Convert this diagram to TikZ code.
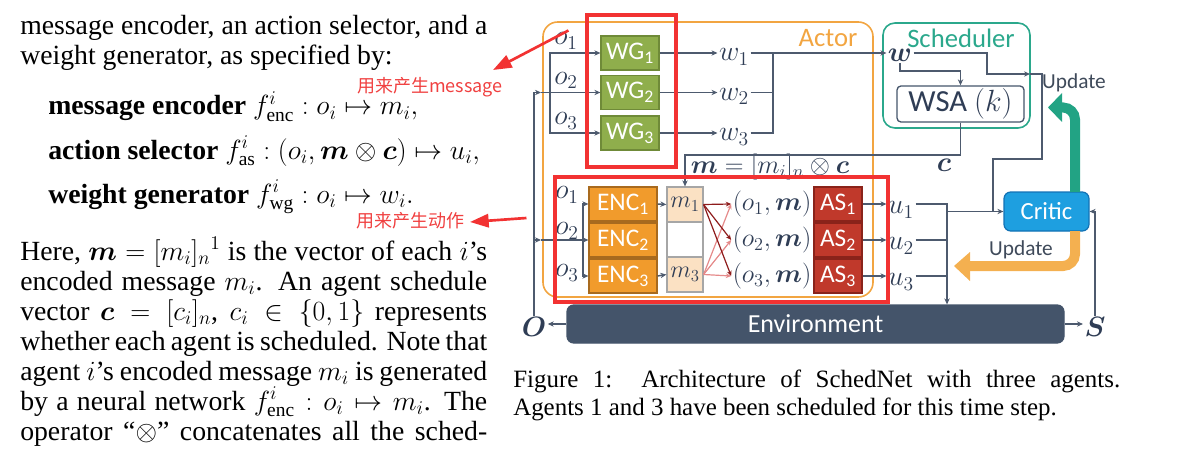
\RequirePackage{fix-cm}
\documentclass[tikz,border=0pt]{standalone}
\usepackage{amsmath,amssymb}
\usepackage{fontspec}
\setmainfont{Liberation Serif}
\newfontfamily\calib{Carlito}
\newfontfamily\cjk{Noto Sans CJK SC}
\usetikzlibrary{arrows.meta,calc}

\newcommand\pxu{0.75pt}
\newcommand\jline[2][350.25pt]{\parbox[b]{#1}{\parfillskip=0pt\relax #2}}

\definecolor{actorc}{HTML}{F2A541}
\definecolor{schedc}{HTML}{2BA88C}
\definecolor{wgc}{HTML}{8FAE4C}
\definecolor{wgd}{HTML}{6F8A38}
\definecolor{encc}{HTML}{F19B2C}
\definecolor{encd}{HTML}{A86A1E}
\definecolor{asc}{HTML}{C0392B}
\definecolor{asd}{HTML}{8A231A}
\definecolor{msgc}{HTML}{FBE1C3}
\definecolor{wirec}{HTML}{4D5A6E}
\definecolor{labc}{HTML}{2F3D55}
\definecolor{criticc}{HTML}{1E9FE0}
\definecolor{criticd}{HTML}{1272B5}
\definecolor{envc}{HTML}{44546A}
\definecolor{updg}{HTML}{22A384}
\definecolor{updo}{HTML}{F4B050}
\definecolor{updtxt}{HTML}{3F4A5A}
\definecolor{hilite}{HTML}{F23232}
\definecolor{notec}{HTML}{F04040}
\definecolor{crossd}{HTML}{8E1C1C}
\definecolor{crossl}{HTML}{E58A8A}

\tikzset{
  conn/.style={draw=wirec,line width=1.1pt,-{Stealth[length=4.5pt,width=4pt]}},
  wireline/.style={draw=wirec,line width=1.1pt},
  blk/.style={draw,line width=0.9pt,inner sep=0pt,text=white,
    font=\calib\fontsize{19}{20}\selectfont,minimum height=34*\pxu},
  wgbox/.style={blk,fill=wgc,draw=wgd,minimum width=58*\pxu},
  encbox/.style={blk,fill=encc,draw=encd,minimum width=68*\pxu},
  asbox/.style={blk,fill=asc,draw=asd,minimum width=48*\pxu},
  msgbox/.style={draw=gray!70,line width=0.9pt,fill=msgc,inner sep=0pt,
    minimum width=36*\pxu,minimum height=35*\pxu,text=labc,font=\fontsize{18}{19}\selectfont},
  lbl/.style={inner sep=1pt,text=labc,font=\fontsize{21}{22}\selectfont},
  omlbl/.style={inner sep=1pt,text=labc,font=\fontsize{19.5}{20}\selectfont},
  grpbox/.style={draw=#1,line width=1.2pt,rounded corners=11pt},
  grplbl/.style={inner sep=0pt,text=#1,font=\calib\fontsize{20}{22}\selectfont},
  hlbox/.style={draw=hilite,line width=2.3pt,inner sep=0pt},
  txt/.style={anchor=base west,inner sep=0pt,font=\fontsize{20.8}{22.5}\selectfont},
  captxt/.style={anchor=base west,inner sep=0pt,font=\fontsize{18.7}{22.5}\selectfont},
  note/.style={inner sep=0pt,text=notec,font=\cjk\fontsize{13.5}{14}\selectfont},
  redarrow/.style={draw=hilite,line width=2pt,-{Triangle[length=14pt,width=10pt]}},
  crossa/.style={line width=0.9pt,-{Stealth[length=4pt,width=3.5pt]}},
  updlbl/.style={inner sep=0pt,text=updtxt,font=\calib\fontsize{16}{18}\selectfont},
}

\begin{document}
\begin{tikzpicture}[x=0.75pt,y=-0.75pt]
\useasboundingbox (0,0) rectangle (1180,449);

% paper text on the left
\node[txt] (p1) at (20,35) {\jline{message encoder, an action selector, and a}};
\node[txt] (p2) at (20,65) {weight generator, as specified by:};
\node[txt] (d1) at (48,115) {\textbf{message encoder} $f^i_{\text{enc}} : o_i \mapsto m_i,$};
\node[txt] (d2) at (48,159) {\textbf{action selector} $f^i_{\text{as}} : (o_i, \boldsymbol{m} \otimes \boldsymbol{c}) \mapsto u_i,$};
\node[txt] (d3) at (48,203) {\textbf{weight generator} $f^i_{\text{wg}} : o_i \mapsto w_i.$};
\node[txt] (h1) at (20,260) {\jline{Here, $\boldsymbol{m} = [m_i]_n{}^1$ is the vector of each $i$’s}};
\node[txt] (h2) at (20,290) {\jline{encoded message $m_i$. An agent schedule}};
\node[txt] (h3) at (20,320) {\jline{vector $\boldsymbol{c} = [c_i]_n$, $c_i \in \{0,1\}$ represents}};
\node[txt] (h4) at (20,350) {\jline{whether each agent is scheduled. Note that}};
\node[txt] (h5) at (20,380) {\jline{agent $i$’s encoded message $m_i$ is generated}};
\node[txt] (h6) at (20,410) {\jline{by a neural network $f^i_{\text{enc}} : o_i \mapsto m_i$. The}};
\node[txt] (h7) at (20,440) {\jline{operator “$\otimes$” concatenates all the sched-}};

% caption
\node[captxt] (cap1) at (513,387) {\jline[455.25pt]{Figure 1:\ \ Architecture of SchedNet with three agents.}};
\node[captxt] (cap2) at (513,415) {Agents 1 and 3 have been scheduled for this time step.};

% groups
\node[grpbox=actorc,minimum width=330*\pxu,minimum height=275*\pxu] (actor) at (708,159.5) {};
\node[grplbl=actorc] (actorlbl) at (828,38) {Actor};
\node[grpbox=schedc,rounded corners=9pt,minimum width=147*\pxu,minimum height=105*\pxu] (sched) at (956.5,75.5) {};
\node[grplbl=schedc] (schedlbl) at (961,38) {Scheduler};

% weight generators
\foreach \i/\y in {1/53,2/92.5,3/133}{
  \node[wgbox] (wg\i) at (630,\y) {WG\textsubscript{\i}};
  \node[lbl] (o\i) at (566,\y-12) {$o_{\i}$};
  \node[lbl] (w\i) at (734,\y+4) {$w_{\i}$};
}
% encoders, messages, action selectors
\foreach \i/\y/\oy in {1/204/195,2/240/231,3/276/273}{
  \node[encbox] (enc\i) at (623,\y) {ENC\textsubscript{\i}};
  \node[lbl] (oe\i) at (567,\oy) {$o_{\i}$};
  \node[omlbl] (om\i) at (772,\y) {$(o_{\i},\boldsymbol{m})$};
  \node[asbox] (as\i) at (838,\y) {AS\textsubscript{\i}};
  \node[lbl] (u\i) at (901,\y+6) {$u_{\i}$};
}
\node[msgbox] (msg1) at (685,204.5) {$m_1$};
\node[msgbox,fill=white] (msg2) at (685,239.5) {};
\node[msgbox] (msg3) at (685,274.5) {$m_3$};

% scheduler
\node[lbl] (wbold) at (900,55) {$\boldsymbol{w}$};
\node[draw=envc,line width=1pt,rounded corners=3pt,minimum width=127*\pxu,minimum height=36*\pxu,
  inner sep=0pt,text=labc,font=\calib\fontsize{23}{24}\selectfont] (wsa) at (960.5,104) {WSA $(k)$};
\node[lbl] (cbold) at (944,165) {$\boldsymbol{c}$};
\node[omlbl] (mlab) at (770,167) {$\boldsymbol{m}=[m_i]_n\otimes\boldsymbol{c}$};

% critic and environment
\node[blk,fill=criticc,draw=criticd,rounded corners=5pt,minimum width=85*\pxu,minimum height=39*\pxu,
  font=\calib\fontsize{18.5}{20}\selectfont] (critic) at (1046.5,211.5) {Critic};
\node[blk,fill=envc,draw=envc,rounded corners=5pt,minimum width=497*\pxu,minimum height=38*\pxu,
  font=\calib\fontsize{19.5}{20}\selectfont] (env) at (815.5,324) {Environment};
\node[lbl] (oin) at (534,327) {$\boldsymbol{O}$};
\node[lbl] (sout) at (1095,327) {$\boldsymbol{S}$};

% observations in
\coordinate (obus) at (534,92.5);
\coordinate (owg) at (541,92.5);
\coordinate (oenc) at (541,240);
\draw[wireline] (oin.north) -- (obus);
\draw[conn] (obus) -- (owg);
\draw[conn] (owg) -- (wg2.west);
\draw[conn] (550,92.5) |- (wg1.west);
\draw[conn] (550,92.5) |- (wg3.west);
\draw[conn] (obus |- oenc) -- (oenc);
\draw[conn] (oenc) -- (enc2.west);
\draw[conn] (583,240) |- (enc1.west);
\draw[conn] (583,240) |- (enc3.west);

% weights
\coordinate (wbus) at (773,53);
\foreach \i in {1,2,3}{
  \draw[conn] (wg\i.east) -- (w\i.west |- wg\i);
}
\draw[wireline] (w2.east |- wg2) -- (wbus |- wg2);
\draw[wireline] (w3.east |- wg3) -| (wbus);
\draw[conn] (w1.east |- wg1) -- (wbold.west |- wg1);
\draw[conn] (wbold.south) -- ++(0,8) -| (wsa.north);
\coordinate (schedout) at (1030,74);
\coordinate (drop) at (1042,159);
\coordinate (join) at (993,211.5);
\draw[conn] (wbold.east |- wg1) -| (987,74) -- (schedout);
\draw[wireline] (schedout) -| (drop) -| (join);

% schedule vector to messages
\coordinate (cturn) at (960.5,155);
\draw[conn] (wsa.south) -- (cturn) -| (msg1.north);
\draw[conn] (enc1.east) -- (msg1.west);
\draw[conn] (enc3.east) -- (msg3.west);
\foreach \j in {1,2,3}{
  \draw[crossa,draw=crossd] (msg1.east) -- (om\j.west);
  \draw[crossa,draw=crossl] (msg3.east) -- (om\j.west);
}

% actions
\coordinate (ubus) at (947,204);
\foreach \i in {1,2,3}{
  \draw[conn] (as\i.east) -- (u\i.west |- as\i);
}
\draw[conn] (u1.east |- as1) -| (ubus |- env.north);
\draw[wireline] (u2.east |- as2) -- (ubus |- as2);
\draw[wireline] (u3.east |- as3) -- (ubus |- as3);
\draw[conn] (ubus |- critic) -- (critic.west);

% environment outputs
\draw[conn] (env.west) -- (oin.east |- env.west);
\draw[conn] (env.east) -- (sout.west |- env.east);
\draw[conn] (sout.north) |- (critic.east);

% update arrows
\draw[updg,line width=7.5pt,rounded corners=9pt] (1075,192) -- (1075,107.5) -- (1061,107.5);
\fill[updg] (1048,107.5) -- (1062,93) -- (1062,122) -- cycle;
\node[updlbl] (upd1) at (1074,83) {Update};
\draw[updo,line width=7.5pt,rounded corners=9pt] (1075,231) -- (1075,266) -- (968,266);
\fill[updo] (954,266) -- (970,252) -- (970,281) -- cycle;
\node[updlbl] (upd2) at (1021,250) {Update};

% highlights and notes
\node[hlbox,minimum width=89*\pxu,minimum height=152*\pxu] (hlwg) at (631.5,91) {};
\node[hlbox,minimum width=333*\pxu,minimum height=125*\pxu] (hlas) at (721.5,239.5) {};
\node[note] (ann1) at (430,87) {用来产生message};
\node[note] (ann2) at (410,221) {用来产生动作};
\coordinate (tip1) at (493,70);
\coordinate (tip2) at (470,222);
\draw[redarrow] ($(hlwg.north west)+(-17,17)$) -- (tip1);
\draw[redarrow] ($(hlas.west)+(-27,-21.5)$) -- (tip2);
\end{tikzpicture}
\end{document}
